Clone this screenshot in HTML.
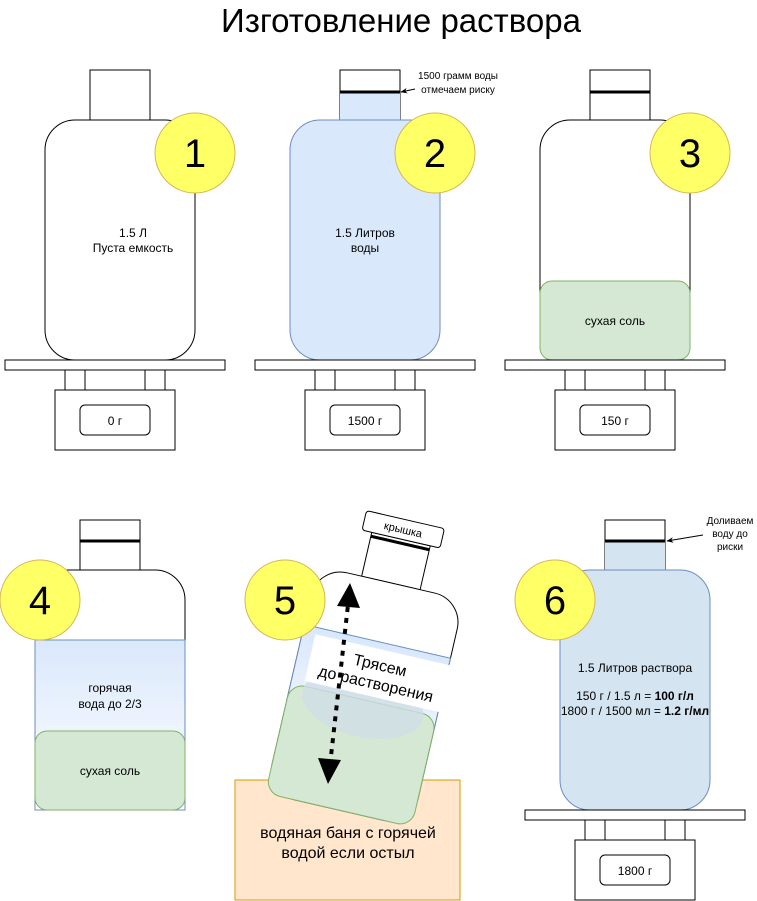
<!DOCTYPE html>
<html><head><meta charset="utf-8"><style>body{margin:0;background:#fff}svg{display:block}text{font-family:"Liberation Sans",sans-serif}</style></head>
<body>
<svg width="757" height="901" viewBox="0 0 757 901" xmlns="http://www.w3.org/2000/svg">
<defs>
<linearGradient id="g" x1="0" y1="0" x2="0" y2="1"><stop offset="0" stop-color="#dae8fc"/><stop offset="1" stop-color="#ffffff"/></linearGradient>
<marker id="ar" viewBox="0 0 10 10" refX="9" refY="5" markerWidth="7" markerHeight="7" orient="auto"><path d="M0,1 L10,5 L0,9 L3,5z" fill="#000"/></marker>
</defs>
<text x="401" y="32" font-size="33" text-anchor="middle">Изготовление раствора</text>

<!-- Bottle 1 -->
<rect x="90" y="70" width="60" height="50" fill="#fff" stroke="#000"/>
<rect x="45" y="120" width="150" height="240" rx="30" fill="#fff" stroke="#000"/>
<text x="133" y="237" font-size="12" text-anchor="middle">1.5 Л</text>
<text x="133" y="252" font-size="12" text-anchor="middle">Пуста емкость</text>
<circle cx="195" cy="153" r="40" fill="#ffff66" stroke="#d6b656"/>
<text x="195" y="167" font-size="40" text-anchor="middle">1</text>
<g fill="#fff" stroke="#000">
<rect x="5" y="360" width="220" height="10"/><rect x="65" y="370" width="20" height="20"/><rect x="145" y="370" width="20" height="20"/>
<rect x="55" y="390" width="120" height="60"/><rect x="80" y="405" width="70" height="30" rx="5"/></g>
<text x="115" y="425" font-size="12" text-anchor="middle">0 г</text>

<!-- Bottle 2 -->
<rect x="340" y="70" width="60" height="50" fill="#fff" stroke="#000"/>
<rect x="340" y="92" width="60" height="28" fill="#dae8fc" stroke="none"/>
<line x1="340" y1="92" x2="400" y2="92" stroke="#000" stroke-width="3"/>
<rect x="290" y="120" width="150" height="240" rx="30" fill="#dae8fc" stroke="#6c8ebf"/>
<text x="365" y="237" font-size="12" text-anchor="middle">1.5 Литров</text>
<text x="365" y="252" font-size="12" text-anchor="middle">воды</text>
<circle cx="435" cy="153" r="40" fill="#ffff66" stroke="#d6b656"/>
<text x="435" y="167" font-size="40" text-anchor="middle">2</text>
<text x="458" y="79" font-size="10" text-anchor="middle">1500 грамм воды</text>
<text x="458" y="93" font-size="10" text-anchor="middle">отмечаем риску</text>
<line x1="415" y1="89" x2="401" y2="92" stroke="#000" marker-end="url(#ar)"/>
<g fill="#fff" stroke="#000">
<rect x="255" y="360" width="220" height="10"/><rect x="315" y="370" width="20" height="20"/><rect x="395" y="370" width="20" height="20"/>
<rect x="305" y="390" width="120" height="60"/><rect x="330" y="405" width="70" height="30" rx="5"/></g>
<text x="365" y="425" font-size="12" text-anchor="middle">1500 г</text>

<!-- Bottle 3 -->
<rect x="590" y="70" width="60" height="50" fill="#fff" stroke="#000"/>
<line x1="590" y1="92" x2="650" y2="92" stroke="#000" stroke-width="3"/>
<rect x="540" y="120" width="150" height="240" rx="30" fill="#fff" stroke="#000"/>
<rect x="540" y="281" width="150" height="79" rx="12" fill="#d5e8d4" stroke="#82b366"/>
<text x="615" y="325" font-size="12" text-anchor="middle">сухая соль</text>
<circle cx="690" cy="153" r="40" fill="#ffff66" stroke="#d6b656"/>
<text x="690" y="167" font-size="40" text-anchor="middle">3</text>
<g fill="#fff" stroke="#000">
<rect x="505" y="360" width="220" height="10"/><rect x="565" y="370" width="20" height="20"/><rect x="645" y="370" width="20" height="20"/>
<rect x="555" y="390" width="120" height="60"/><rect x="580" y="405" width="70" height="30" rx="5"/></g>
<text x="615" y="425" font-size="12" text-anchor="middle">150 г</text>

<!-- Bottle 4 -->
<rect x="80" y="520" width="60" height="50" fill="#fff" stroke="#000"/>
<line x1="80" y1="541" x2="140" y2="541" stroke="#000" stroke-width="3"/>
<path d="M35,810 V570 H155 A30,30 0 0 1 185,600 V810" fill="#fff" stroke="#000"/>
<rect x="35" y="640" width="150" height="170" fill="url(#g)" stroke="#6c8ebf"/>
<text x="110" y="692" font-size="12" text-anchor="middle">горячая</text>
<text x="110" y="708" font-size="12" text-anchor="middle">вода до 2/3</text>
<rect x="35" y="731" width="150" height="79" rx="12" fill="#d5e8d4" stroke="#82b366"/>
<text x="110" y="775" font-size="12" text-anchor="middle">сухая соль</text>
<circle cx="40" cy="600" r="40" fill="#ffff66" stroke="#d6b656"/>
<text x="40" y="614" font-size="40" text-anchor="middle">4</text>

<!-- Bottle 5 -->
<rect x="235" y="780" width="225" height="120" fill="#ffe6cc" stroke="#d79b00"/>
<text x="348" y="838" font-size="16" text-anchor="middle">водяная баня с горячей</text>
<text x="348" y="858" font-size="16" text-anchor="middle">водой если остыл</text>
<g transform="translate(365,695) rotate(13)">
<rect x="-30" y="-160" width="60" height="45" fill="#fff" stroke="#000"/>
<line x1="-30" y1="-156" x2="30" y2="-156" stroke="#000" stroke-width="3"/>
<rect x="-40" y="-180" width="80" height="20" rx="3" fill="#fff" stroke="#000"/>
<text x="0" y="-166" font-size="11" text-anchor="middle">крышка</text>
<rect x="-75" y="-115" width="150" height="233" rx="30" fill="#fff" stroke="#000"/>
<path d="M-75,-55 H75 V88 Q75,118 45,118 H-45 Q-75,118 -75,88z" fill="url(#g)" stroke="#6c8ebf"/>
<rect x="-75" y="5" width="150" height="113" rx="15" fill="#d5e8d4" stroke="#82b366"/>
<ellipse cx="0" cy="10" rx="62" ry="32" fill="#cfdde6" opacity="0.8"/>
<rect x="-62" y="-48" width="140" height="48" fill="#fff"/>
<text x="8" y="-27" font-size="16" text-anchor="middle">Трясем</text>
<text x="8" y="-8" font-size="16" text-anchor="middle">до растворения</text>
</g>
<line x1="330" y1="765" x2="348" y2="605" stroke="#000" stroke-width="4" stroke-dasharray="5,6"/>
<path d="M350,583 L360,608 L337,606z" fill="#000"/>
<path d="M328,784 L318,758 L341,760z" fill="#000"/>
<circle cx="285" cy="600" r="40" fill="#ffff66" stroke="#d6b656"/>
<text x="285" y="614" font-size="40" text-anchor="middle">5</text>

<!-- Bottle 6 -->
<rect x="605" y="520" width="60" height="50" fill="#fff" stroke="#000"/>
<rect x="605" y="541" width="60" height="29" fill="#d4e4f0"/>
<line x1="605" y1="541" x2="665" y2="541" stroke="#000" stroke-width="3"/>
<rect x="560" y="570" width="150" height="240" rx="30" fill="#d4e4f0" stroke="#6c8ebf"/>
<text x="635" y="672" font-size="12" text-anchor="middle">1.5 Литров раствора</text>
<text x="635" y="700" font-size="12" text-anchor="middle">150 г / 1.5 л = <tspan font-weight="bold">100 г/л</tspan></text>
<text x="635" y="715" font-size="12" text-anchor="middle">1800 г / 1500 мл = <tspan font-weight="bold">1.2 г/мл</tspan></text>
<circle cx="555" cy="600" r="40" fill="#ffff66" stroke="#d6b656"/>
<text x="555" y="614" font-size="40" text-anchor="middle">6</text>
<text x="730" y="524" font-size="10" text-anchor="middle">Доливаем</text>
<text x="730" y="537" font-size="10" text-anchor="middle">воду до</text>
<text x="730" y="550" font-size="10" text-anchor="middle">риски</text>
<line x1="703" y1="535" x2="667" y2="541" stroke="#000" marker-end="url(#ar)"/>
<g fill="#fff" stroke="#000">
<rect x="525" y="810" width="220" height="10"/><rect x="585" y="820" width="20" height="20"/><rect x="665" y="820" width="20" height="20"/>
<rect x="575" y="840" width="120" height="60"/><rect x="600" y="855" width="70" height="30" rx="5"/></g>
<text x="635" y="875" font-size="12" text-anchor="middle">1800 г</text>
</svg>
</body></html>
